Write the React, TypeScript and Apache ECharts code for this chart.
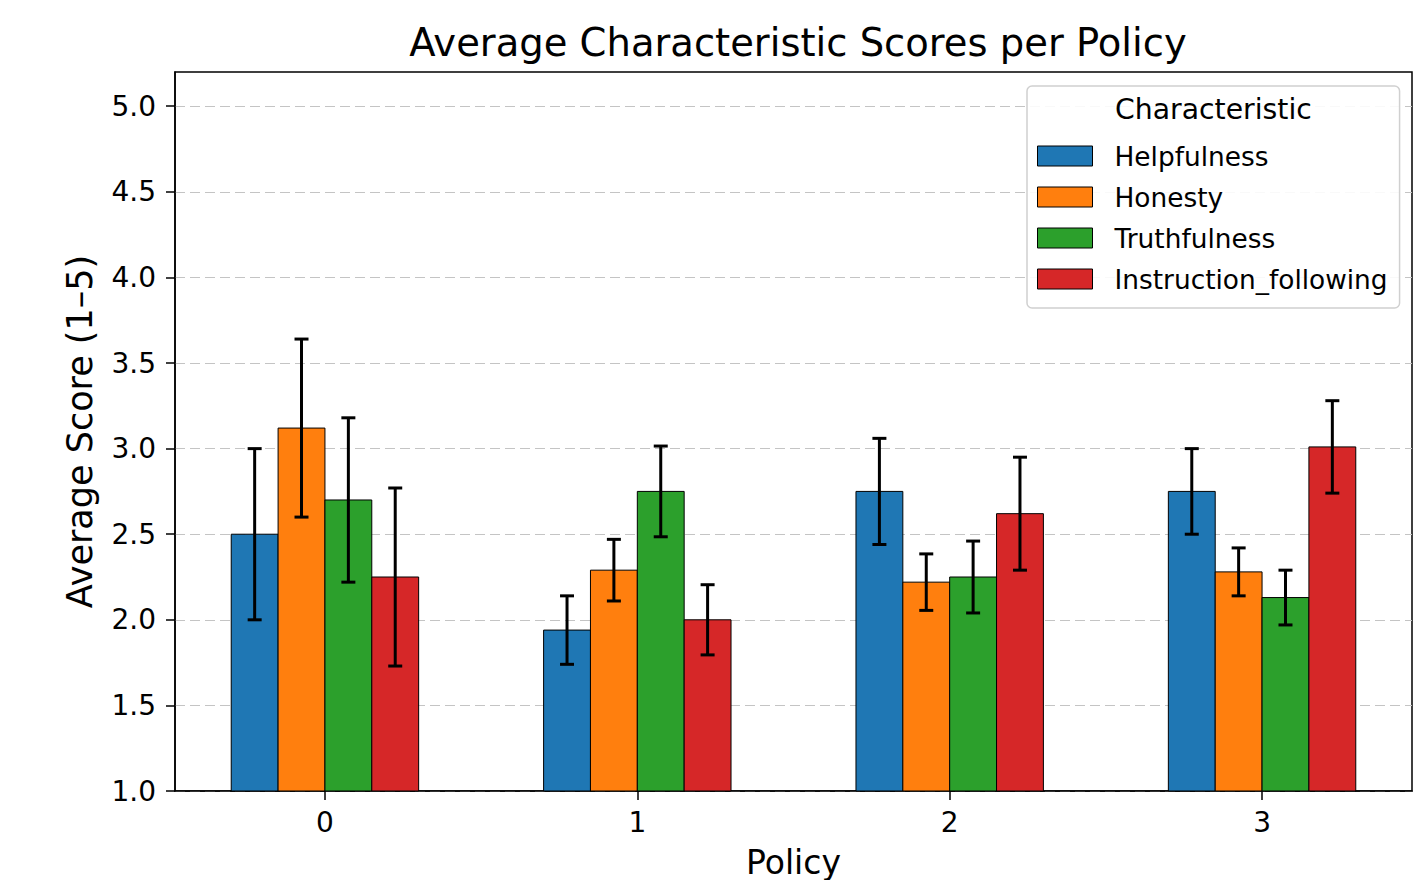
import React, { useEffect, useRef } from "react";
import * as echarts from "echarts";

const policies = [0, 1, 2, 3];
const seriesNames = ["Helpfulness", "Honesty", "Truthfulness", "Instruction_following"];
const helpfulness = [2.5, 1.94, 2.75, 2.75];
const helpfulnessErr = [0.5, 0.2, 0.31, 0.25];
const honesty = [3.12, 2.29, 2.22, 2.28];
const honestyErr = [0.52, 0.18, 0.165, 0.14];
const truthfulness = [2.7, 2.75, 2.25, 2.13];
const truthfulnessErr = [0.48, 0.265, 0.21, 0.16];
const instructionFollowing = [2.25, 2.0, 2.62, 3.01];
const instructionFollowingErr = [0.52, 0.205, 0.33, 0.27];
const yTicks = [1.0, 1.5, 2.0, 2.5, 3.0, 3.5, 4.0, 4.5, 5.0];

const colors = ["#1f77b4", "#ff7f0e", "#2ca02c", "#d62728"];
const FONT = "DejaVu Sans";

export default function App() {
  const ref = useRef<HTMLDivElement>(null);
  useEffect(() => {
    if (!ref.current) return;
    const chart = echarts.init(ref.current, null, { renderer: "svg" });
    const values = [helpfulness, honesty, truthfulness, instructionFollowing];
    const errs = [helpfulnessErr, honestyErr, truthfulnessErr, instructionFollowingErr];
    const barW = 0.15;
    const offsets = [-1.5, -0.5, 0.5, 1.5].map((k) => k * barW);
    const yMin = 1.0;

    const series = seriesNames.map((name, si) => ({
      name,
      type: "custom",
      itemStyle: { color: colors[si], borderColor: "#000", borderWidth: 1 },
      encode: { x: 0, y: 1 },
      data: policies.map((p, i) => [p, values[si][i], errs[si][i]]),
      renderItem: (params: any, api: any) => {
        const x = api.value(0) + offsets[si];
        const v = api.value(1);
        const e = api.value(2);
        const p0 = api.coord([x - barW / 2, v]);
        const p1 = api.coord([x + barW / 2, yMin]);
        const c = api.coord([x, v]);
        const top = api.coord([x, v + e]);
        const bot = api.coord([x, v - e]);
        const cap = 7;
        const lw = 3;
        return {
          type: "group",
          children: [
            {
              type: "rect",
              shape: { x: p0[0], y: p0[1], width: p1[0] - p0[0], height: p1[1] - p0[1] },
              style: { fill: colors[si], stroke: "#000", lineWidth: 1 },
            },
            {
              type: "line",
              shape: { x1: c[0], y1: top[1], x2: c[0], y2: bot[1] },
              style: { stroke: "#000", lineWidth: lw },
            },
            {
              type: "line",
              shape: { x1: c[0] - cap, y1: top[1], x2: c[0] + cap, y2: top[1] },
              style: { stroke: "#000", lineWidth: lw },
            },
            {
              type: "line",
              shape: { x1: c[0] - cap, y1: bot[1], x2: c[0] + cap, y2: bot[1] },
              style: { stroke: "#000", lineWidth: lw },
            },
          ],
        };
      },
    }));

    chart.setOption({
      animation: false,
      backgroundColor: "#fff",
      title: {
        text: "Average Characteristic Scores per Policy",
        left: 793,
        top: 18,
        textAlign: "center",
        textStyle: { fontFamily: FONT, fontSize: 38.5, fontWeight: "normal", color: "#000" },
      },
      grid: {
        left: 175,
        right: 4,
        top: 72,
        bottom: 89,
        outerBoundsMode: "none",
        containLabel: false,
        show: true,
        borderColor: "#000",
        borderWidth: 1.5,
        backgroundColor: "transparent",
      },
      xAxis: {
        type: "value",
        min: -0.48,
        max: 3.48,
        name: "Policy",
        nameLocation: "middle",
        nameGap: 55,
        nameTextStyle: { fontFamily: FONT, fontSize: 33, color: "#000" },
        axisLine: { show: true, onZero: false, lineStyle: { color: "#000", width: 1.5 } },
        axisTick: { show: true, length: 9, customValues: policies, lineStyle: { color: "#000", width: 1.5 } },
        axisLabel: {
          customValues: policies,
          fontFamily: FONT,
          fontSize: 28,
          color: "#000",
          margin: 17,
          formatter: (v: number) => String(Math.round(v)),
        },
        splitLine: { show: false },
      },
      yAxis: {
        type: "value",
        min: 1.0,
        max: 5.2,
        interval: 0.5,
        name: "Average Score (1–5)",
        nameLocation: "middle",
        nameRotate: 90,
        nameGap: 78,
        nameTextStyle: { fontFamily: FONT, fontSize: 35, color: "#000" },
        axisLine: { show: true, onZero: false, lineStyle: { color: "#000", width: 1.5 } },
        axisTick: { show: true, length: 9, customValues: yTicks, lineStyle: { color: "#000", width: 1.5 } },
        axisLabel: {
          customValues: yTicks,
          fontFamily: FONT,
          fontSize: 28,
          color: "#000",
          margin: 19,
          formatter: (v: number) => v.toFixed(1),
        },
        splitLine: {
          show: true,
          lineStyle: { color: "#c4c4c4", type: [10, 5], width: 1 },
        },
      },
      legend: {
        orient: "vertical",
        left: 1027,
        top: 86,
        z: 20,
        padding: [55, 12, 14, 10],
        itemWidth: 55,
        itemHeight: 20,
        itemGap: 11,
        backgroundColor: "rgba(255,255,255,0.9)",
        borderColor: "#d0d0d0",
        borderWidth: 1.5,
        borderRadius: 5,
        icon: "rect",
        textStyle: {
          fontFamily: FONT,
          fontSize: 26.4,
          color: "#000",
          lineHeight: 30,
          padding: [0, 0, 0, 17],
        },
        data: seriesNames.map((n, i) => ({
          name: n,
          itemStyle: { color: colors[i], borderColor: "#000", borderWidth: 1 },
        })),
      },
      graphic: [
        {
          type: "text",
          z: 100,
          left: 1115,
          top: 95,
          style: {
            text: "Characteristic",
            fontFamily: FONT,
            fontSize: 28.3,
            fill: "#000",
          },
        },
      ],
      series,
    });
    return () => chart.dispose();
  }, []);
  return (
    <div
      ref={ref}
      style={{ position: "fixed", left: 0, top: 0, width: 1416, height: 880 }}
    />
  );
}
